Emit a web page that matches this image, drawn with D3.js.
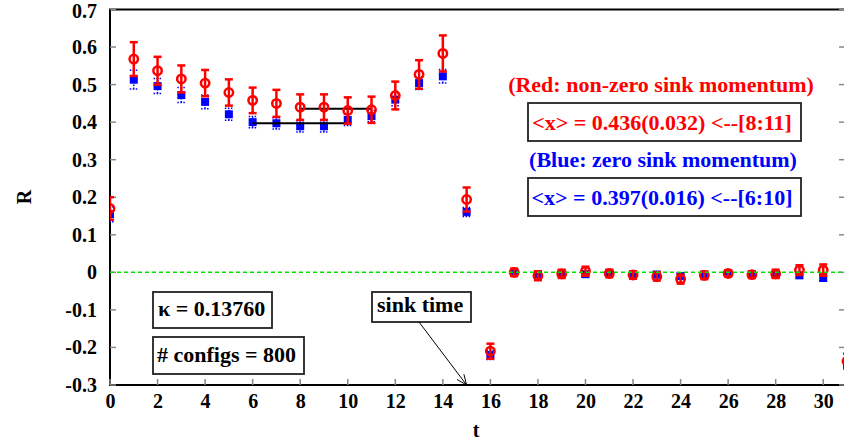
<!DOCTYPE html>
<html>
<head>
<meta charset="utf-8">
<script src="https://cdn.jsdelivr.net/npm/d3@7/dist/d3.min.js"></script>
<style>
  html, body { margin: 0; padding: 0; background: #fff; }
  svg { display: block; }
  svg text { font-family: "Liberation Serif", "DejaVu Serif", serif !important; font-weight: bold; }
</style>
</head>
<body>
<svg id="chart" width="844" height="445"></svg>
<script>
// Ratio R versus time slice t
const tValues = d3.range(0, 32);
const redR   = [0.170, 0.568, 0.537, 0.515, 0.504, 0.479, 0.458, 0.450, 0.440, 0.440, 0.431, 0.433,
                0.471, 0.527, 0.583, 0.194, -0.210, 0.000, -0.009, -0.004, 0.003, -0.003, -0.007,
                -0.011, -0.018, -0.008, -0.003, -0.006, -0.004, 0.006, 0.006, -0.237];
const redErr = [0.030, 0.045, 0.037, 0.036, 0.035, 0.035, 0.034, 0.036, 0.034, 0.034, 0.035, 0.035,
                0.037, 0.038, 0.048, 0.032, 0.020, 0.010, 0.012, 0.011, 0.012, 0.010, 0.010,
                0.011, 0.012, 0.010, 0.008, 0.009, 0.011, 0.013, 0.015, 0.020];
const blueR   = [0.155, 0.513, 0.496, 0.472, 0.454, 0.421, 0.400, 0.397, 0.389, 0.389, 0.406, 0.416,
                 0.460, 0.504, 0.522, 0.161, -0.220, 0.000, -0.005, -0.003, -0.005, -0.002, -0.005,
                 -0.006, -0.010, -0.006, -0.002, -0.005, -0.006, -0.008, -0.015, -0.245];
const blueErr = [0.020, 0.025, 0.020, 0.020, 0.018, 0.016, 0.015, 0.015, 0.015, 0.015, 0.015, 0.015,
                 0.016, 0.017, 0.018, 0.012, 0.012, 0.008, 0.008, 0.008, 0.008, 0.007, 0.007,
                 0.008, 0.008, 0.007, 0.006, 0.006, 0.007, 0.008, 0.008, 0.012];
// Plateau fits: [tStart, tEnd, value]
const redFit  = [8, 11, 0.436];
const blueFit = [6, 10, 0.397];
const xTicks = d3.range(0, 31, 2);
const yTicks = [-0.3, -0.2, -0.1, 0, 0.1, 0.2, 0.3, 0.4, 0.5, 0.6, 0.7];

const SERIF = "'Liberation Serif', 'DejaVu Serif', serif";
const svg = d3.select("#chart");
const x = d3.scaleLinear().domain([0, 31]).range([110, 847]);
const y = d3.scaleLinear().domain([-0.3, 0.7]).range([385, 9.5]);

svg.append("clipPath").attr("id", "clip")
  .append("rect").attr("x", 110).attr("y", 0).attr("width", 734).attr("height", 445);

// Frame
svg.append("rect").attr("x", x(0)).attr("y", y(0.7))
  .attr("width", x(31) - x(0)).attr("height", y(-0.3) - y(0.7))
  .attr("fill", "none").attr("stroke", "#000").attr("stroke-width", 2);

// Inward ticks (grey)
const tickG = svg.append("g").attr("stroke", "#888").attr("stroke-width", 1.5);
yTicks.forEach(v => {
  tickG.append("line").attr("x1", x(0)).attr("x2", x(0) + 6).attr("y1", y(v)).attr("y2", y(v));
  tickG.append("line").attr("x1", x(31)).attr("x2", x(31) - 8).attr("y1", y(v)).attr("y2", y(v));
});
xTicks.forEach(v => {
  tickG.append("line").attr("x1", x(v)).attr("x2", x(v)).attr("y1", y(-0.3)).attr("y2", y(-0.3) - 6);
});

// Tick labels via d3 axes with hidden tick lines
const fmtY = d => d === 0 ? "0" : d3.format(".1f")(d).replace("\u2212", "-");
const yAxis = svg.append("g").attr("transform", `translate(${x(0)},0)`)
  .call(d3.axisLeft(y).tickValues(yTicks).tickSize(0).tickPadding(13).tickFormat(fmtY));
yAxis.select(".domain").remove();
yAxis.attr("font-family", null).attr("font-size", null);
yAxis.selectAll("text").style("font-family", SERIF).style("font-size", "20px")
  .style("font-weight", "bold").attr("fill", "#000");
// keep the top label inside the page
yAxis.selectAll(".tick").filter(d => d === 0.7).select("text").attr("dy", "0.38em");

const xAxis = svg.append("g").attr("transform", `translate(0,${y(-0.3)})`)
  .call(d3.axisBottom(x).tickValues(xTicks).tickSize(0).tickPadding(9).tickFormat(d3.format("d")));
xAxis.select(".domain").remove();
xAxis.attr("font-family", null).attr("font-size", null);
xAxis.selectAll("text").style("font-family", SERIF).style("font-size", "20px")
  .style("font-weight", "bold").attr("fill", "#000");

function label(tx, ty, str, size, color, anchor) {
  return svg.append("text").attr("x", tx).attr("y", ty)
    .attr("text-anchor", anchor || "start").attr("fill", color || "#000")
    .style("font-family", SERIF).style("font-size", size + "px").style("font-weight", "bold")
    .text(str);
}

// Axis titles
svg.append("text").attr("transform", `translate(31,197) rotate(-90)`)
  .attr("text-anchor", "middle").style("font-family", SERIF).style("font-size", "20px")
  .style("font-weight", "bold").text("R");
label(476, 437, "t", 20, "#000", "middle");

const data = tValues.map((t, i) => ({ t, r: redR[i], re: redErr[i], b: blueR[i], be: blueErr[i] }));
const marks = svg.append("g").attr("clip-path", "url(#clip)");

// Blue series: dotted error bars and filled squares
const blueG = marks.append("g");
data.forEach(d => {
  const g = blueG.append("g").attr("stroke", "#0000ff").attr("stroke-width", 1.5)
    .attr("stroke-dasharray", "1.5,1.5");
  g.append("line").attr("x1", x(d.t)).attr("x2", x(d.t)).attr("y1", y(d.b - d.be)).attr("y2", y(d.b + d.be));
  g.append("line").attr("x1", x(d.t) - 4).attr("x2", x(d.t) + 4).attr("y1", y(d.b - d.be)).attr("y2", y(d.b - d.be));
  g.append("line").attr("x1", x(d.t) - 4).attr("x2", x(d.t) + 4).attr("y1", y(d.b + d.be)).attr("y2", y(d.b + d.be));
});
blueG.selectAll("rect.sq").data(data).join("rect").attr("class", "sq")
  .attr("x", d => x(d.t) - 4).attr("y", d => y(d.b) - 4)
  .attr("width", 8).attr("height", 8).attr("fill", "#0000ff");

// Plateau fit lines
[blueFit, redFit].forEach(f => {
  marks.append("line").attr("x1", x(f[0])).attr("x2", x(f[1])).attr("y1", y(f[2])).attr("y2", y(f[2]))
    .attr("stroke", "#000").attr("stroke-width", 2);
});

// Red series: error bars and open circles
const redG = marks.append("g").attr("stroke", "#ff0000").attr("stroke-width", 2.5).attr("fill", "none");
data.forEach(d => {
  redG.append("line").attr("x1", x(d.t)).attr("x2", x(d.t)).attr("y1", y(d.r - d.re)).attr("y2", y(d.r + d.re));
  redG.append("line").attr("x1", x(d.t) - 4).attr("x2", x(d.t) + 4).attr("y1", y(d.r - d.re)).attr("y2", y(d.r - d.re));
  redG.append("line").attr("x1", x(d.t) - 4).attr("x2", x(d.t) + 4).attr("y1", y(d.r + d.re)).attr("y2", y(d.r + d.re));
});
redG.selectAll("circle").data(data).join("circle")
  .attr("cx", d => x(d.t)).attr("cy", d => y(d.r)).attr("r", 4.2);

// Zero line, drawn over the markers
svg.append("line").attr("x1", x(0)).attr("x2", x(31)).attr("y1", y(0)).attr("y2", y(0))
  .attr("stroke", "#00e000").attr("stroke-width", 1.5).attr("stroke-dasharray", "4,3");

// Annotation boxes
function box(x0, y0, w, h) {
  svg.append("rect").attr("x", x0).attr("y", y0).attr("width", w).attr("height", h)
    .attr("fill", "#fff").attr("stroke", "#222").attr("stroke-width", 1.8);
}
label(661, 92, "(Red: non-zero sink momentum)", 22, "#ff0000", "middle");
box(528, 103, 273, 38);
label(662, 130, "<x> = 0.436(0.032) <--[8:11]", 22, "#ff0000", "middle");
label(663, 167, "(Blue: zero sink momentum)", 22, "#0000ff", "middle");
box(528, 178, 273, 38);
label(662, 205, "<x> = 0.397(0.016) <--[6:10]", 22, "#0000ff", "middle");

box(153, 292, 119, 36);
label(158, 316, "κ = 0.13760", 22);
box(153, 337, 151, 37);
label(157, 362, "# configs = 800", 22);

box(372, 292, 99, 30);
label(377, 312, "sink time", 22);

// Arrow pointing to the sink time on the t axis
const ax0 = 419, ay0 = 322, ax1 = x(15), ay1 = y(-0.3);
svg.append("line").attr("x1", ax0).attr("y1", ay0).attr("x2", ax1).attr("y2", ay1)
  .attr("stroke", "#000").attr("stroke-width", 1);
const ang = Math.atan2(ay1 - ay0, ax1 - ax0);
[0.4, -0.4].forEach(da => {
  svg.append("line").attr("x1", ax1).attr("y1", ay1)
    .attr("x2", ax1 - 11 * Math.cos(ang + da)).attr("y2", ay1 - 11 * Math.sin(ang + da))
    .attr("stroke", "#000").attr("stroke-width", 1);
});
</script>
</body>
</html>
